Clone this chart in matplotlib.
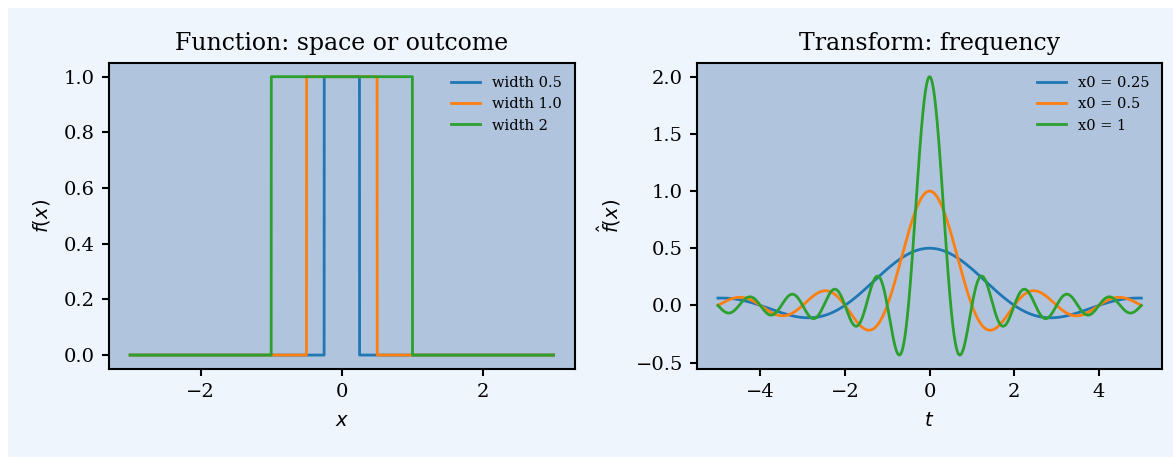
import numpy as np
import matplotlib.pyplot as plt
from matplotlib.patches import Rectangle

# box widths for the left panel, half widths x0 for the transforms
widths = [0.5, 1.0, 2]
width_labels = ["width 0.5", "width 1.0", "width 2"]
x0_values = [0.25, 0.5, 1]
x0_labels = ["x0 = 0.25", "x0 = 0.5", "x0 = 1"]

plt.rcParams['font.family'] = ['DejaVu Serif']
plt.rcParams['mathtext.fontset'] = 'dejavusans'

fig = plt.figure(figsize=(11.73, 4.57), dpi=100)
fig.patch.set_facecolor('#eef5fd')
# thin white strip along the top and left edge
fig.patches.append(Rectangle((0, 0), 7 / 1173, 1, transform=fig.transFigure,
                             color='white', zorder=-1))
fig.patches.append(Rectangle((0, 1 - 7 / 457), 1, 7 / 457, transform=fig.transFigure,
                             color='white', zorder=-1))

ax1 = fig.add_axes([0.0929, 0.1926, 0.397, 0.670])
ax2 = fig.add_axes([0.594, 0.1926, 0.397, 0.670])
for ax in (ax1, ax2):
    ax.set_facecolor('#b0c4de')
    ax.tick_params(labelsize=14, length=5, width=1.5, pad=5)
    for s in ax.spines.values():
        s.set_linewidth(1.5)

x = np.linspace(-3, 3, 6001)
for w, lab in zip(widths, width_labels):
    fx = np.where(np.abs(x) <= w / 2, 1.0, 0.0)
    ax1.plot(x, fx, lw=2, label=lab)
ax1.set_title("Function: space or outcome", fontsize=17, pad=9)
ax1.set_xlabel("$x$", fontsize=14, labelpad=8)
ax1.set_ylabel("$f(x)$", fontsize=14, labelpad=9)
ax1.set_xticks([-2, 0, 2])
ax1.legend(frameon=False, fontsize=10.5)

t = np.linspace(-5, 5, 2001)
for x0, lab in zip(x0_values, x0_labels):
    ft = 2 * x0 * np.sinc(2 * x0 * t)
    ax2.plot(t, ft, lw=2, label=lab)
ax2.set_title("Transform: frequency", fontsize=17, pad=9)
ax2.set_xlabel("$t$", fontsize=14, labelpad=8)
ax2.set_ylabel(r"$\hat{f}(x)$", fontsize=14, labelpad=9)
ax2.set_xticks([-4, -2, 0, 2, 4])
ax2.set_yticks([-0.5, 0, 0.5, 1.0, 1.5, 2.0])
ax2.legend(frameon=False, fontsize=10.5)

fig.savefig("out.png", dpi=100, facecolor=fig.get_facecolor())
